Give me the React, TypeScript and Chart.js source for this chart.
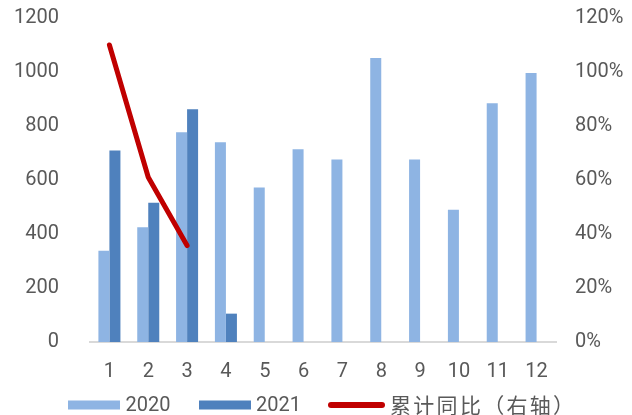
import React, { useEffect, useRef } from "react";
import { Chart, registerables } from "chart.js";

Chart.register(...registerables);

const months = ["1", "2", "3", "4", "5", "6", "7", "8", "9", "10", "11", "12"];
const values2020 = [338, 425, 777, 740, 572, 714, 676, 1052, 676, 490, 884, 996];
const values2021 = [709, 516, 862, 105, null, null, null, null, null, null, null, null];
const cumulativeYoY = [1.10, 0.61, 0.357, null, null, null, null, null, null, null, null, null];
const leftTicks = [0, 200, 400, 600, 800, 1000, 1200];

const FONT = "Roboto, 'Liberation Sans', sans-serif";
const CJK_FONT = "'Noto Sans CJK SC', sans-serif";
const GREY = "#595959";

const legendPlugin = {
  id: "customLegend",
  afterDraw(chart: any) {
    const ctx = chart.ctx;
    const ds = chart.data.datasets;
    const line = ds[0];
    const a = ds[1];
    const b = ds[2];
    const cy = 405;
    ctx.save();
    ctx.textBaseline = "middle";
    ctx.textAlign = "left";
    ctx.fillStyle = a.backgroundColor;
    ctx.fillRect(68, cy - 4.5, 52, 9);
    ctx.fillStyle = GREY;
    ctx.font = `20px ${FONT}`;
    ctx.fillText(a.label, 125.5, cy + 0.5);
    ctx.fillStyle = b.backgroundColor;
    ctx.fillRect(199, cy - 4.5, 52, 9);
    ctx.fillStyle = GREY;
    ctx.fillText(b.label, 256, cy + 0.5);
    ctx.strokeStyle = line.borderColor;
    ctx.lineWidth = 6;
    ctx.lineCap = "round";
    ctx.beginPath();
    ctx.moveTo(331, cy);
    ctx.lineTo(382, cy);
    ctx.stroke();
    ctx.font = `21px ${CJK_FONT}`;
    (ctx as any).letterSpacing = "2.3px";
    ctx.fillStyle = GREY;
    ctx.fillText(line.label, 390, cy + 0.5);
    ctx.restore();
  },
};

export default function App() {
  const ref = useRef<HTMLCanvasElement | null>(null);
  useEffect(() => {
    if (!ref.current) return;
    const chart = new Chart(ref.current, {
      type: "bar",
      data: {
        labels: months,
        datasets: [
          {
            type: "line",
            label: "累计同比（右轴）",
            data: cumulativeYoY,
            borderColor: "#C00000",
            backgroundColor: "#C00000",
            borderWidth: 5,
            pointRadius: 0,
            pointHoverRadius: 0,
            borderCapStyle: "round",
            borderJoinStyle: "round",
            yAxisID: "y1",
            order: 0,
          } as any,
          {
            label: "2020",
            data: values2020,
            backgroundColor: "#8EB4E3",
            yAxisID: "y",
            order: 1,
          },
          {
            label: "2021",
            data: values2021,
            backgroundColor: "#4F81BD",
            yAxisID: "y",
            order: 1,
          },
        ],
      },
      options: {
        animation: false,
        responsive: false,
        maintainAspectRatio: false,
        layout: { padding: { top: 18, right: 9, left: 14, bottom: 33 } },
        datasets: { bar: { categoryPercentage: 0.567, barPercentage: 1 } } as any,
        plugins: {
          tooltip: { enabled: false },
          legend: { display: false },
        },
        scales: {
          x: {
            grid: { display: false, drawTicks: false },
            border: { display: true, color: "#D9D9D9", width: 2 },
            ticks: { color: GREY, font: { family: FONT, size: 20 }, padding: 18 },
            afterFit: (axis: any) => {
              axis.height = 40;
              axis.paddingLeft = 0;
              axis.paddingRight = 0;
            },
          },
          y: {
            position: "left",
            min: 0,
            max: 1200,
            grid: { display: false, drawTicks: false },
            border: { display: false },
            afterBuildTicks: (axis: any) => {
              axis.ticks = leftTicks.map((v) => ({ value: v }));
            },
            afterFit: (axis: any) => {
              axis.width = 76;
              axis.paddingTop = 0;
              axis.paddingBottom = 0;
            },
            ticks: {
              color: GREY,
              font: { family: FONT, size: 20 },
              padding: 31,
              callback: (v: any) => String(v),
            },
          },
          y1: {
            position: "right",
            min: 0,
            max: 1.2,
            grid: { display: false, drawTicks: false },
            border: { display: false },
            afterFit: (axis: any) => {
              axis.width = 67;
              axis.paddingTop = 0;
              axis.paddingBottom = 0;
            },
            ticks: {
              stepSize: 0.2,
              color: GREY,
              font: { family: FONT, size: 20 },
              padding: 19,
              callback: (v: any) => Math.round(Number(v) * 100) + "%",
            },
          },
        },
      },
      plugins: [legendPlugin],
    });
    return () => chart.destroy();
  }, []);
  return (
    <div style={{ position: "fixed", left: 0, top: 0, width: 632, height: 415, background: "#fff" }}>
      <canvas ref={ref} width={632} height={415} style={{ width: 632, height: 415 }} />
    </div>
  );
}
